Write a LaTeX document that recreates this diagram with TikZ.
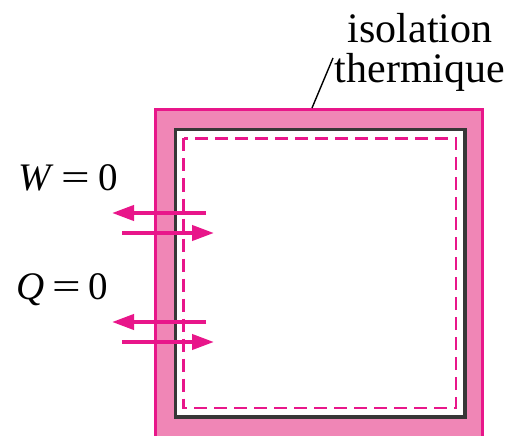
\documentclass[tikz,border=0pt]{standalone}
\usepackage{graphicx}
\usepackage{fontspec}
\setmainfont{Liberation Serif}
\usetikzlibrary{arrows.meta,positioning,calc}
\definecolor{wallline}{RGB}{232,22,138}
\definecolor{wallfill}{RGB}{240,134,182}
\definecolor{innerln}{RGB}{55,55,55}
\tikzset{
  wallln/.style={draw=wallline, line width=3.2pt, fill=wallfill},
  innerbox/.style={draw=innerln, line width=3.4pt, fill=white},
  limitln/.style={draw=wallline, line width=2.4pt, dash pattern=on 13pt off 7pt},
  flow/.style={-{Triangle[length=22pt,width=15pt]}, line width=4pt, wallline},
  lbl/.style={font=\fontsize{42}{40}\selectfont, inner sep=0pt},
  eqlbl/.style={font=\fontsize{39}{40}\selectfont, inner sep=0pt},
}
\newcommand{\eqsign}{\hspace{8pt}\scalebox{1.3}[1]{=}\hspace{8pt}}
\begin{document}
\begin{tikzpicture}[x=1pt,y=-1pt]
    \useasboundingbox (0,0) rectangle (523,436);
    % Insulation wall
    \draw[wallln] (155.5,460) -- (155.5,109.5) -- (482.5,109.5) -- (482.5,460);
    \draw[innerbox] (175.5,129.5) rectangle (465,417);
    % System limit
    \draw[limitln] (183.5,138.5) rectangle (456,408);
    % Work exchange
    \coordinate (w1a) at (206,213);
    \coordinate (w1b) at (112,213);
    \coordinate (w2a) at (122,233);
    \coordinate (w2b) at (214,233);
    \draw[flow] (w1a) -- (w1b);
    \draw[flow] (w2a) -- (w2b);
    % Heat exchange
    \coordinate (q1a) at (206,322);
    \coordinate (q1b) at (112,322);
    \coordinate (q2a) at (122,342);
    \coordinate (q2b) at (214,342);
    \draw[flow] (q1a) -- (q1b);
    \draw[flow] (q2a) -- (q2b);
    % Labels
    \node[eqlbl, anchor=base west] (W) at (18,190) {\textit{W}\eqsign0};
    \node[eqlbl, anchor=base west] (Q) at (16,299) {\textit{Q}\eqsign0};
    \node[lbl, align=center, anchor=base] (iso) at (420,83) {isolation\\thermique};
    \coordinate (wallpt) at (312,108);
    \draw[line width=1.4pt, black] (wallpt) -- (333,58);
\end{tikzpicture}
\end{document}
